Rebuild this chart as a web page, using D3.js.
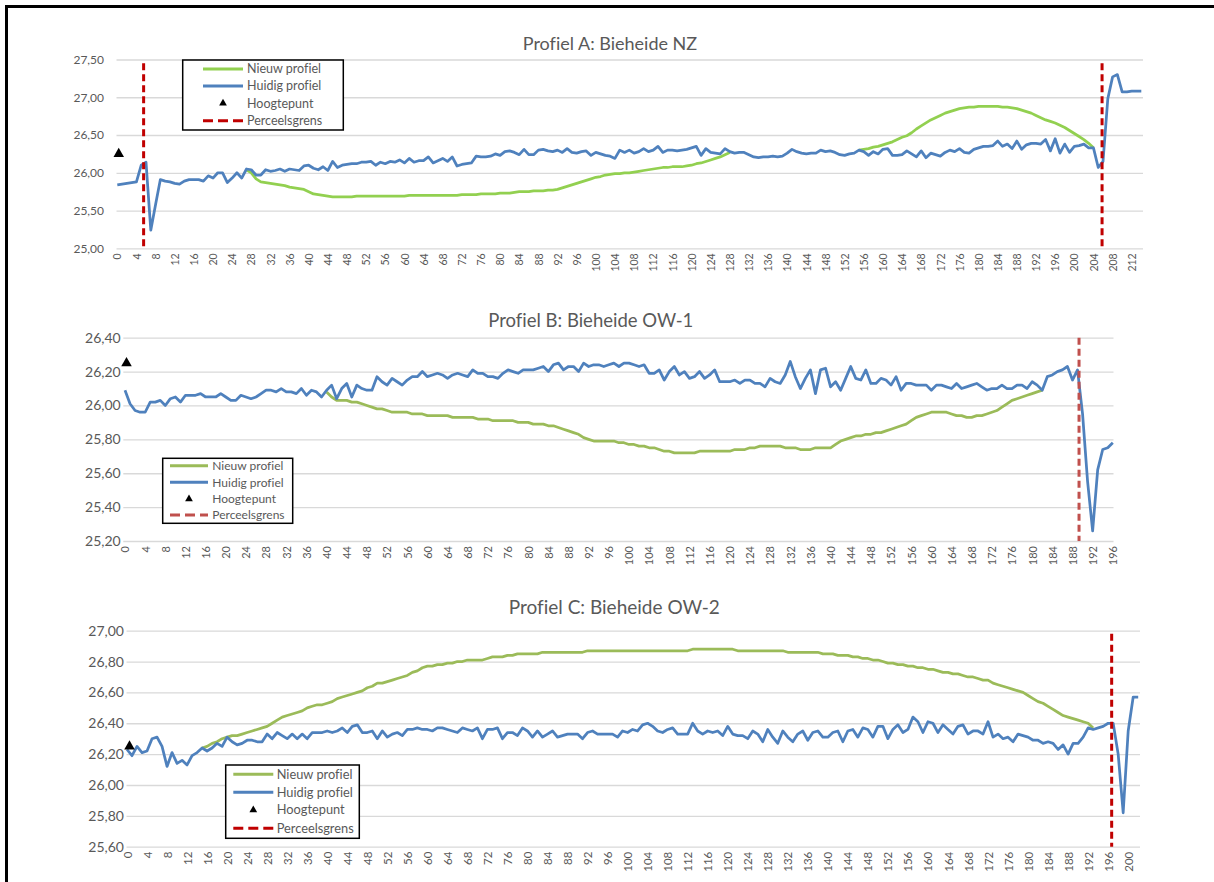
<!DOCTYPE html>
<html>
<head>
<meta charset="utf-8">
<script src="https://cdnjs.cloudflare.com/ajax/libs/d3/7.8.5/d3.min.js"></script>
<style>
  body { margin: 0; background: #fff; }
  svg text { font-family: Lato, "Open Sans", sans-serif; fill: #595959; font-variant-ligatures: none; }
</style>
</head>
<body>
<div id="viz"></div>
<script>
// ---------- Profiel A: Bieheide NZ ----------
const yTicksA = [25.0, 25.5, 26.0, 26.5, 27.0, 27.5];
const huidigA = [
  25.84, 25.85, 25.86, 25.87, 25.88, 26.10, 26.14, 25.24, 25.58, 25.91,
  25.89, 25.88, 25.86, 25.85, 25.89, 25.91, 25.91, 25.91, 25.89, 25.96,
  25.93, 26.00, 26.00, 25.87, 25.93, 26.00, 25.93, 26.05, 26.04, 25.97,
  25.97, 26.04, 26.02, 26.03, 26.05, 26.02, 26.05, 26.04, 26.03, 26.09,
  26.10, 26.06, 26.04, 26.08, 26.03, 26.15, 26.07, 26.10, 26.11, 26.12,
  26.12, 26.14, 26.14, 26.15, 26.10, 26.14, 26.12, 26.15, 26.14, 26.17,
  26.13, 26.19, 26.14, 26.16, 26.16, 26.21, 26.13, 26.16, 26.19, 26.15,
  26.21, 26.09, 26.11, 26.12, 26.13, 26.22, 26.21, 26.21, 26.22, 26.25,
  26.23, 26.28, 26.29, 26.27, 26.24, 26.31, 26.24, 26.24, 26.30, 26.31,
  26.29, 26.28, 26.30, 26.27, 26.32, 26.27, 26.26, 26.28, 26.29, 26.23,
  26.27, 26.25, 26.23, 26.22, 26.19, 26.30, 26.27, 26.30, 26.26, 26.28,
  26.32, 26.28, 26.30, 26.35, 26.27, 26.30, 26.30, 26.29, 26.30, 26.31,
  26.33, 26.35, 26.23, 26.32, 26.27, 26.26, 26.25, 26.32, 26.28, 26.26,
  26.27, 26.27, 26.24, 26.21, 26.20, 26.21, 26.21, 26.22, 26.21, 26.22,
  26.26, 26.31, 26.28, 26.26, 26.25, 26.26, 26.26, 26.30, 26.28, 26.29,
  26.27, 26.24, 26.23, 26.25, 26.26, 26.30, 26.28, 26.23, 26.28, 26.25,
  26.31, 26.32, 26.23, 26.23, 26.24, 26.29, 26.25, 26.21, 26.29, 26.20,
  26.26, 26.24, 26.22, 26.27, 26.30, 26.28, 26.32, 26.27, 26.26, 26.31,
  26.33, 26.35, 26.35, 26.36, 26.42, 26.35, 26.38, 26.32, 26.42, 26.31,
  26.37, 26.39, 26.39, 26.38, 26.44, 26.29, 26.45, 26.26, 26.38, 26.27,
  26.35, 26.36, 26.38, 26.33, 26.33, 26.07, 26.15, 26.98, 27.27, 27.30,
  27.07, 27.07, 27.08, 27.08, 27.08
];
// new profile, two visible stretches (between them it runs under the current profile)
const nieuwA1Start = 27;
const nieuwA1 = [
  26.04, 26.00, 25.92,
  25.88, 25.87, 25.86, 25.85, 25.84, 25.83, 25.81, 25.80, 25.79, 25.78,
  25.75, 25.72, 25.71, 25.70, 25.69, 25.68, 25.68, 25.68, 25.68, 25.68,
  25.69, 25.69, 25.69, 25.69, 25.69, 25.69, 25.69, 25.69, 25.69, 25.69,
  25.69, 25.70, 25.70, 25.70, 25.70, 25.70, 25.70, 25.70, 25.70, 25.70,
  25.70, 25.70, 25.71, 25.71, 25.71, 25.71, 25.72, 25.72, 25.72, 25.72,
  25.73, 25.73, 25.73, 25.74, 25.75, 25.75, 25.75, 25.76, 25.76, 25.76,
  25.77, 25.77, 25.78, 25.80, 25.82, 25.84, 25.86, 25.88, 25.90, 25.92,
  25.94, 25.95, 25.97, 25.98, 25.99, 25.99, 26.00, 26.00, 26.01, 26.02,
  26.03, 26.04, 26.05, 26.06, 26.07, 26.07, 26.08, 26.08, 26.08, 26.09,
  26.10, 26.12, 26.13, 26.15, 26.17, 26.19, 26.21, 26.24, 26.27
];
const nieuwA2Start = 155;
const nieuwA2 = [
  26.30, 26.31, 26.32, 26.34, 26.35,
  26.37, 26.39, 26.41, 26.44, 26.47, 26.49, 26.53, 26.58, 26.62, 26.66,
  26.70, 26.73, 26.76, 26.79, 26.81, 26.83, 26.85, 26.86, 26.87, 26.87,
  26.88, 26.88, 26.88, 26.88, 26.88, 26.87, 26.87, 26.86, 26.85, 26.83,
  26.81, 26.79, 26.76, 26.73, 26.70, 26.68, 26.66, 26.63, 26.60, 26.56,
  26.52, 26.48, 26.44, 26.39, 26.33
];
const perceelA = [5.5, 205.8];
const perceelTopA = 27.45;
const hoogA = { c: 0.3, v: 26.25 };

// ---------- Profiel B: Bieheide OW-1 ----------
const yTicksB = [25.2, 25.4, 25.6, 25.8, 26.0, 26.2, 26.4];
const huidigB = [
  26.09, 26.01, 25.97, 25.96, 25.96, 26.02, 26.02, 26.03, 26.00, 26.04,
  26.05, 26.02, 26.06, 26.06, 26.06, 26.07, 26.05, 26.05, 26.05, 26.07,
  26.05, 26.03, 26.03, 26.06, 26.05, 26.04, 26.05, 26.07, 26.09, 26.09,
  26.08, 26.10, 26.08, 26.08, 26.07, 26.10, 26.06, 26.09, 26.08, 26.05,
  26.09, 26.12, 26.04, 26.10, 26.13, 26.05, 26.12, 26.10, 26.09, 26.09,
  26.17, 26.14, 26.12, 26.16, 26.14, 26.12, 26.15, 26.17, 26.17, 26.20,
  26.17, 26.18, 26.19, 26.18, 26.16, 26.18, 26.19, 26.18, 26.17, 26.21,
  26.19, 26.19, 26.17, 26.17, 26.16, 26.19, 26.21, 26.20, 26.19, 26.21,
  26.21, 26.21, 26.22, 26.23, 26.20, 26.24, 26.25, 26.21, 26.23, 26.23,
  26.20, 26.25, 26.23, 26.24, 26.24, 26.23, 26.24, 26.25, 26.23, 26.25,
  26.25, 26.24, 26.23, 26.24, 26.19, 26.19, 26.21, 26.15, 26.20, 26.23,
  26.18, 26.20, 26.16, 26.17, 26.20, 26.16, 26.18, 26.21, 26.14, 26.14,
  26.14, 26.15, 26.13, 26.15, 26.15, 26.13, 26.13, 26.11, 26.16, 26.14,
  26.13, 26.18, 26.26, 26.17, 26.10, 26.16, 26.21, 26.07, 26.21, 26.22,
  26.11, 26.14, 26.09, 26.16, 26.23, 26.16, 26.15, 26.21, 26.13, 26.13,
  26.16, 26.15, 26.12, 26.17, 26.09, 26.13, 26.13, 26.12, 26.12, 26.12,
  26.09, 26.12, 26.12, 26.11, 26.10, 26.13, 26.10, 26.11, 26.12, 26.13,
  26.11, 26.09, 26.10, 26.10, 26.12, 26.10, 26.10, 26.12, 26.12, 26.10,
  26.14, 26.12, 26.09, 26.17, 26.18, 26.20, 26.21, 26.23, 26.15, 26.21,
  25.95, 25.55, 25.26, 25.62, 25.74, 25.75, 25.78
];
const nieuwBStart = 40;
const nieuwB = [
  26.08, 26.05, 26.03, 26.03, 26.03, 26.02, 26.02, 26.01, 26.00, 25.99,
  25.98, 25.98, 25.97, 25.96, 25.96, 25.96, 25.96, 25.95, 25.95, 25.95,
  25.94, 25.94, 25.94, 25.94, 25.94, 25.93, 25.93, 25.93, 25.93, 25.93,
  25.92, 25.92, 25.92, 25.91, 25.91, 25.91, 25.91, 25.91, 25.90, 25.90,
  25.90, 25.89, 25.89, 25.89, 25.88, 25.88, 25.87, 25.86, 25.85, 25.84,
  25.83, 25.81, 25.80, 25.79, 25.79, 25.79, 25.79, 25.79, 25.78, 25.78,
  25.77, 25.77, 25.76, 25.76, 25.75, 25.75, 25.74, 25.73, 25.73, 25.72,
  25.72, 25.72, 25.72, 25.72, 25.73, 25.73, 25.73, 25.73, 25.73, 25.73,
  25.73, 25.74, 25.74, 25.74, 25.75, 25.75, 25.76, 25.76, 25.76, 25.76,
  25.76, 25.75, 25.75, 25.75, 25.74, 25.74, 25.74, 25.75, 25.75, 25.75,
  25.75, 25.77, 25.79, 25.80, 25.81, 25.82, 25.82, 25.83, 25.83, 25.84,
  25.84, 25.85, 25.86, 25.87, 25.88, 25.89, 25.91, 25.93, 25.94, 25.95,
  25.96, 25.96, 25.96, 25.96, 25.95, 25.94, 25.94, 25.93, 25.93, 25.94,
  25.94, 25.95, 25.96, 25.97, 25.99, 26.01, 26.03, 26.04, 26.05, 26.06,
  26.07, 26.08, 26.09
];
const perceelB = [189.3];
const perceelTopB = 26.40;
const hoogB = { c: 0.3, v: 26.25 };

// ---------- Profiel C: Bieheide OW-2 ----------
const yTicksC = [25.6, 25.8, 26.0, 26.2, 26.4, 26.6, 26.8, 27.0];
const huidigC = [
  26.23, 26.19, 26.25, 26.21, 26.22, 26.30, 26.31, 26.25, 26.12, 26.21,
  26.14, 26.16, 26.13, 26.19, 26.21, 26.24, 26.22, 26.24, 26.27, 26.25,
  26.31, 26.28, 26.26, 26.27, 26.29, 26.29, 26.28, 26.28, 26.33, 26.30,
  26.34, 26.32, 26.30, 26.33, 26.30, 26.33, 26.30, 26.34, 26.34, 26.34,
  26.35, 26.34, 26.35, 26.37, 26.34, 26.38, 26.39, 26.34, 26.34, 26.35,
  26.30, 26.35, 26.31, 26.33, 26.34, 26.32, 26.36, 26.36, 26.37, 26.36,
  26.36, 26.35, 26.37, 26.37, 26.36, 26.35, 26.34, 26.37, 26.36, 26.35,
  26.37, 26.30, 26.36, 26.36, 26.37, 26.30, 26.34, 26.34, 26.32, 26.37,
  26.35, 26.31, 26.35, 26.31, 26.33, 26.35, 26.31, 26.32, 26.33, 26.33,
  26.33, 26.30, 26.34, 26.35, 26.33, 26.33, 26.33, 26.33, 26.31, 26.35,
  26.34, 26.36, 26.35, 26.39, 26.40, 26.38, 26.35, 26.34, 26.36, 26.37,
  26.33, 26.33, 26.33, 26.40, 26.35, 26.33, 26.35, 26.34, 26.35, 26.32,
  26.38, 26.33, 26.32, 26.32, 26.30, 26.35, 26.33, 26.28, 26.36, 26.31,
  26.27, 26.35, 26.31, 26.28, 26.33, 26.35, 26.29, 26.34, 26.35, 26.31,
  26.31, 26.34, 26.35, 26.28, 26.35, 26.36, 26.31, 26.37, 26.36, 26.31,
  26.38, 26.38, 26.30, 26.36, 26.39, 26.34, 26.36, 26.44, 26.41, 26.34,
  26.41, 26.40, 26.34, 26.39, 26.36, 26.33, 26.38, 26.39, 26.33, 26.35,
  26.35, 26.33, 26.41, 26.31, 26.33, 26.30, 26.31, 26.28, 26.33, 26.32,
  26.31, 26.29, 26.29, 26.27, 26.28, 26.27, 26.23, 26.26, 26.20, 26.27,
  26.27, 26.31, 26.37, 26.36, 26.37, 26.38, 26.40, 26.40, 26.20, 25.82,
  26.35, 26.57, 26.57
];
const nieuwCStart = 15;
const nieuwC = [
  26.24, 26.25, 26.27, 26.28, 26.30,
  26.31, 26.32, 26.32, 26.33, 26.34, 26.35, 26.36, 26.37, 26.38, 26.40,
  26.42, 26.44, 26.45, 26.46, 26.47, 26.48, 26.50, 26.51, 26.52, 26.52,
  26.53, 26.54, 26.56, 26.57, 26.58, 26.59, 26.60, 26.61, 26.63, 26.64,
  26.66, 26.66, 26.67, 26.68, 26.69, 26.70, 26.71, 26.73, 26.74, 26.76,
  26.77, 26.77, 26.78, 26.78, 26.79, 26.79, 26.80, 26.80, 26.81, 26.81,
  26.81, 26.81, 26.82, 26.83, 26.83, 26.83, 26.84, 26.84, 26.85, 26.85,
  26.85, 26.85, 26.85, 26.86, 26.86, 26.86, 26.86, 26.86, 26.86, 26.86,
  26.86, 26.86, 26.87, 26.87, 26.87, 26.87, 26.87, 26.87, 26.87, 26.87,
  26.87, 26.87, 26.87, 26.87, 26.87, 26.87, 26.87, 26.87, 26.87, 26.87,
  26.87, 26.87, 26.87, 26.88, 26.88, 26.88, 26.88, 26.88, 26.88, 26.88,
  26.88, 26.88, 26.87, 26.87, 26.87, 26.87, 26.87, 26.87, 26.87, 26.87,
  26.87, 26.87, 26.86, 26.86, 26.86, 26.86, 26.86, 26.86, 26.86, 26.85,
  26.85, 26.85, 26.84, 26.84, 26.84, 26.83, 26.83, 26.82, 26.82, 26.81,
  26.81, 26.80, 26.79, 26.79, 26.78, 26.78, 26.77, 26.77, 26.76, 26.76,
  26.75, 26.75, 26.74, 26.73, 26.73, 26.72, 26.72, 26.71, 26.70, 26.70,
  26.69, 26.68, 26.68, 26.66, 26.65, 26.64, 26.63, 26.62, 26.61, 26.60,
  26.58, 26.56, 26.54, 26.53, 26.51, 26.49, 26.47, 26.45, 26.44, 26.43,
  26.42, 26.41, 26.40, 26.37
];
const perceelC = [196.7];
const perceelTopC = 26.98;
const hoogC = { c: 0.5, v: 26.25 };

const legendLabels = ['Nieuw profiel', 'Huidig profiel', 'Hoogtepunt', 'Perceelsgrens'];

// ---------- layout ----------
const W = 1214, H = 882;
const blue = '#4F81BD';

const panels = [
  { title: 'Profiel A: Bieheide NZ', huidig: huidigA,
    nieuw: [[nieuwA1Start, nieuwA1], [nieuwA2Start, nieuwA2]],
    perceel: perceelA, perceelTop: perceelTopA, hoog: hoogA, yTicks: yTicksA,
    green: '#92D050', red: '#C00000',
    x0: 117.3, x1: 1141.3, yTop: 59.5, yBot: 248.3, gx0: 116.5, gx1: 1143,
    labelRight: 104, yFont: 12, xFont: 10.5,
    titleX: 610, titleY: 49.5, titleFont: 18,
    lg: { x: 182.7, y: 60, w: 160.6, h: 70, rows: [69, 86, 103.3, 120.7], s0: 203, s1: 243, tx: 247, font: 12.5 } },
  { title: 'Profiel B: Bieheide OW-1', huidig: huidigB,
    nieuw: [[nieuwBStart, nieuwB]],
    perceel: perceelB, perceelTop: perceelTopB, hoog: hoogB, yTicks: yTicksB,
    green: '#9BBB59', red: '#C0504D',
    x0: 125, x1: 1112.8, yTop: 337.7, yBot: 541, gx0: 123.3, gx1: 1113.5,
    labelRight: 120.7, yFont: 14, xFont: 11,
    titleX: 590.8, titleY: 327, titleFont: 18.5,
    lg: { x: 162.7, y: 458.3, w: 130, h: 65, rows: [465.7, 482.3, 499, 515], s0: 170, s1: 208, tx: 212.3, font: 12 } },
  { title: 'Profiel C: Bieheide OW-2', huidig: huidigC,
    nieuw: [[nieuwCStart, nieuwC]],
    perceel: perceelC, perceelTop: perceelTopC, hoog: hoogC, yTicks: yTicksC,
    green: '#9BBB59', red: '#C00000',
    x0: 127, x1: 1138.2, yTop: 630.7, yBot: 846.7, gx0: 126.5, gx1: 1140,
    labelRight: 124, yFont: 14, xFont: 11.5,
    titleX: 614.3, titleY: 613.5, titleFont: 19,
    lg: { x: 225.7, y: 765, w: 133.6, h: 73.3, rows: [774.3, 792.3, 810, 828.3], s0: 233.3, s1: 273.3, tx: 276.7, font: 12.8 } }
];

const nl = d3.formatLocale({ decimal: ',', thousands: '.', grouping: [3], currency: ['€', ''] });
const fmt = nl.format('.2f');

const svg = d3.select('#viz').append('svg')
  .attr('width', W)
  .attr('height', H);

svg.append('rect').attr('width', W).attr('height', H).attr('fill', '#fff');

panels.forEach(p => {
  const n = p.huidig.length;
  const x = d3.scaleLinear().domain([0, n - 1]).range([p.x0, p.x1]);
  const y = d3.scaleLinear().domain([p.yTicks[0], p.yTicks[p.yTicks.length - 1]]).range([p.yBot, p.yTop]);
  const g = svg.append('g');

  // gridlines + y labels
  const yAxis = d3.axisLeft(y)
    .tickValues(p.yTicks)
    .tickSize(-(p.gx1 - p.gx0))
    .tickPadding(p.gx0 - p.labelRight)
    .tickFormat(fmt);
  const ya = g.append('g').attr('transform', `translate(${p.gx0},0)`).call(yAxis);
  ya.select('.domain').remove();
  ya.selectAll('line').attr('stroke', '#d9d9d9').attr('stroke-width', 1.3);
  ya.selectAll('text').attr('font-size', p.yFont).attr('fill', '#595959')
    .style('font-family', 'Lato, sans-serif');

  // x labels, rotated
  const xAxis = d3.axisBottom(x)
    .tickValues(d3.range(0, n, 4))
    .tickSize(0)
    .tickFormat(d => d);
  const xa = g.append('g').attr('transform', `translate(0,${p.yBot})`).call(xAxis);
  xa.select('.domain').remove();
  xa.selectAll('text')
    .attr('transform', 'rotate(-90)')
    .attr('text-anchor', 'end')
    .attr('x', -5)
    .attr('y', 0)
    .attr('dy', '0.35em')
    .attr('font-size', p.xFont)
    .attr('fill', '#595959')
    .style('font-family', 'Lato, sans-serif');

  // title
  g.append('text')
    .attr('x', p.titleX)
    .attr('y', p.titleY)
    .attr('text-anchor', 'middle')
    .attr('font-size', p.titleFont)
    .text(p.title);

  // new profile
  p.nieuw.forEach(([start, vals]) => {
    const line = d3.line().x((d, i) => x(start + i)).y(d => y(d));
    g.append('path').datum(vals)
      .attr('d', line)
      .attr('fill', 'none')
      .attr('stroke', p.green)
      .attr('stroke-width', 2.75)
      .attr('stroke-linejoin', 'round');
  });

  // current profile
  const lineH = d3.line().x((d, i) => x(i)).y(d => y(d));
  g.append('path').datum(p.huidig)
    .attr('d', lineH)
    .attr('fill', 'none')
    .attr('stroke', blue)
    .attr('stroke-width', 2.75)
    .attr('stroke-linejoin', 'round');

  // parcel border
  g.selectAll('line.perceel').data(p.perceel).enter().append('line')
    .attr('class', 'perceel')
    .attr('x1', d => x(d)).attr('x2', d => x(d))
    .attr('y1', y(p.perceelTop)).attr('y2', y(p.yTicks[0]))
    .attr('stroke', p.red)
    .attr('stroke-width', 3)
    .attr('stroke-dasharray', '7,4');

  // high point
  g.append('path')
    .attr('d', d3.symbol(d3.symbolTriangle, 48)())
    .attr('transform', `translate(${x(p.hoog.c)},${y(p.hoog.v)})`)
    .attr('fill', '#000');

  // legend
  const lg = p.lg;
  const L = g.append('g');
  L.append('rect')
    .attr('x', lg.x).attr('y', lg.y).attr('width', lg.w).attr('height', lg.h)
    .attr('fill', '#fff').attr('stroke', '#000').attr('stroke-width', 1.5);
  L.append('line').attr('x1', lg.s0).attr('x2', lg.s1).attr('y1', lg.rows[0]).attr('y2', lg.rows[0])
    .attr('stroke', p.green).attr('stroke-width', 3);
  L.append('line').attr('x1', lg.s0).attr('x2', lg.s1).attr('y1', lg.rows[1]).attr('y2', lg.rows[1])
    .attr('stroke', blue).attr('stroke-width', 3);
  L.append('path')
    .attr('d', d3.symbol(d3.symbolTriangle, 26)())
    .attr('transform', `translate(${(lg.s0 + lg.s1) / 2},${lg.rows[2]})`)
    .attr('fill', '#000');
  L.append('line').attr('x1', lg.s0).attr('x2', lg.s1).attr('y1', lg.rows[3]).attr('y2', lg.rows[3])
    .attr('stroke', p.red).attr('stroke-width', 3).attr('stroke-dasharray', '10,5');
  L.selectAll('text').data(legendLabels).enter().append('text')
    .attr('x', lg.tx)
    .attr('y', (d, i) => lg.rows[i])
    .attr('dy', '0.35em')
    .attr('font-size', lg.font)
    .text(d => d);
});

// outer frame
svg.append('rect')
  .attr('x', 6.5).attr('y', 6.5)
  .attr('width', W + 20).attr('height', H + 20)
  .attr('fill', 'none')
  .attr('stroke', '#000')
  .attr('stroke-width', 3);
</script>
</body>
</html>
